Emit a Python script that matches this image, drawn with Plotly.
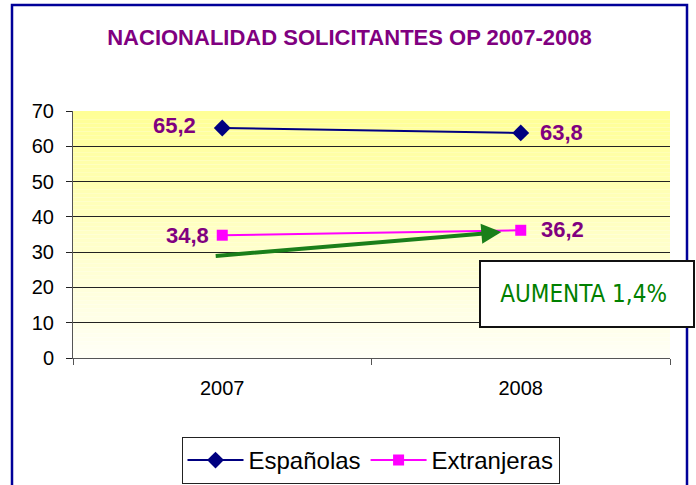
import plotly.graph_objects as go

# ---- data ----
categories = ["2007", "2008"]
espanolas = [65.2, 63.8]
extranjeras = [34.8, 36.2]
title_text = "NACIONALIDAD SOLICITANTES OP 2007-2008"
note_text = "AUMENTA 1,4%"
arrow_start = [-0.027, 28.9]   # (category index, value)
arrow_end = [0.935, 35.7]
y_ticks = [0, 10, 20, 30, 40, 50, 60, 70]

W, H = 696, 485
L, R, T, B = 73, 670, 111, 358


def px(xp):
    return (xp - L) / (R - L)


def py(yp):
    return (B - yp) / (B - T)


def fmt(v):
    return f"{v:.1f}".replace(".", ",")


fig = go.Figure()
fig.add_trace(go.Scatter(
    x=categories, y=espanolas, name="Españolas", mode="lines+markers",
    line=dict(color="#000080", width=2),
    marker=dict(symbol="diamond", size=13, color="#000080"),
))
fig.add_trace(go.Scatter(
    x=categories, y=extranjeras, name="Extranjeras", mode="lines+markers",
    line=dict(color="#FF00FF", width=2),
    marker=dict(symbol="square", size=11, color="#FF00FF"),
))

shapes = []
# gradient background of plot area
n = 60
top = (255, 255, 150)
bot = (255, 255, 246)
for i in range(n):
    f = i / (n - 1)
    c = tuple(round(top[k] + (bot[k] - top[k]) * f) for k in range(3))
    shapes.append(dict(
        type="rect", xref="x domain", yref="y domain",
        x0=0, x1=1, y0=1 - (i + 1) / n, y1=1 - i / n,
        fillcolor="rgb(%d,%d,%d)" % c, line=dict(width=0), layer="below",
    ))
# outer chart border
shapes.append(dict(
    type="rect", xref="paper", yref="paper",
    x0=px(12), x1=px(687), y0=py(495), y1=py(5),
    line=dict(color="#000099", width=2.5), fillcolor="rgba(0,0,0,0)", layer="above",
))

annotations = []
label_shift = {"Españolas": [-24, 17], "Extranjeras": [-11, 18]}
label_dy = {"Españolas": [2, 0], "Extranjeras": [0, 1]}
for name, vals in (("Españolas", espanolas), ("Extranjeras", extranjeras)):
    for i, v in enumerate(vals):
        annotations.append(dict(
            x=i, y=v, xref="x", yref="y", text="<b>" + fmt(v) + "</b>", showarrow=False,
            xanchor="right" if i == 0 else "left", yanchor="middle",
            xshift=label_shift[name][i], yshift=label_dy[name][i],
            font=dict(family="Liberation Sans, Arial, sans-serif", size=22,
                      color="#800080"),
        ))

# green arrow
annotations.append(dict(
    x=arrow_end[0], y=arrow_end[1], ax=arrow_start[0], ay=arrow_start[1],
    xref="x", yref="y", axref="x", ayref="y", text="", showarrow=True,
    arrowhead=2, arrowsize=1.0, arrowwidth=4, arrowcolor="#1a7f1a", standoff=0,
))
# note box
annotations.append(dict(
    x=px(586.5), y=py(294), xref="paper", yref="paper", text=note_text + "&nbsp;",
    showarrow=False, xanchor="center", yanchor="middle",
    width=212, height=64, bgcolor="white", bordercolor="#111111",
    borderwidth=2, borderpad=0, valign="middle", yshift=0,
    font=dict(family="DejaVu Sans Condensed, DejaVu Sans, sans-serif",
              size=24, color="#008000"),
))

fig.update_layout(
    width=W, height=H,
    margin=dict(l=L, r=W - R, t=T, b=H - B, autoexpand=False),
    paper_bgcolor="white", plot_bgcolor="white",
    font=dict(family="Liberation Sans, Arial, sans-serif", color="black"),
    title=dict(
        text="<b>" + title_text + "</b>", x=349.5 / W, xanchor="center",
        y=1 - 37 / H, yanchor="middle", xref="container", yref="container",
        font=dict(family="Liberation Sans, Arial, sans-serif", size=22, color="#800080"),
    ),
    xaxis=dict(
        type="category", range=[-0.5, 1.5], showgrid=False, zeroline=False,
        showline=True, linecolor="#555555", linewidth=1,
        ticks="outside", tickson="boundaries", ticklen=6, tickcolor="#555555",
        tickfont=dict(size=20, color="black"), ticklabelstandoff=12,
    ),
    yaxis=dict(
        range=[0, 70], tickvals=y_ticks, showgrid=True, gridcolor="#222222", gridwidth=1,
        zeroline=False, showline=True, linecolor="#555555", linewidth=1,
        ticks="outside", ticklen=6, tickcolor="#222222",
        tickfont=dict(size=20, color="black"), ticklabelstandoff=8,
    ),
    showlegend=True,
    legend=dict(
        orientation="h", x=px(370.5), xanchor="center", y=py(437), yanchor="top",
        bgcolor="white", bordercolor="#222222", borderwidth=1,
        font=dict(size=24, color="black"), itemwidth=56,
    ),
    shapes=shapes, annotations=annotations,
)

fig.write_html(
    "out.html",
    config={"displayModeBar": False},
    post_script="document.body.style.margin='0px';document.body.style.overflow='hidden';",
)
